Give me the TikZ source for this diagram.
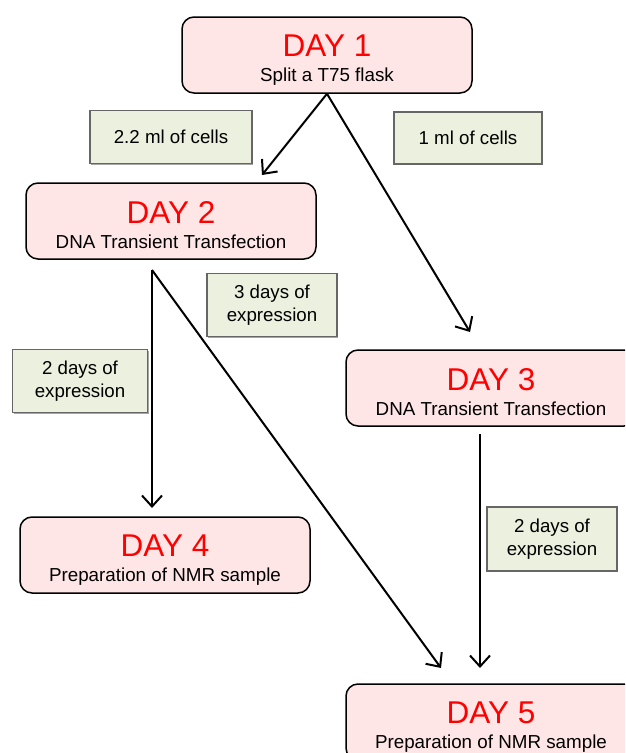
\documentclass[tikz,border=0pt]{standalone}
\usepackage{fontspec}
\setmainfont{Liberation Sans}
\usetikzlibrary{arrows.meta,shadows}
\definecolor{daypink}{RGB}{255,230,230}
\definecolor{notegreen}{RGB}{235,241,222}
\newcommand{\daytitle}[1]{{\color{red}\fontsize{31.5}{31.5}\selectfont\rule{0pt}{31pt}#1}}

\begin{document}
\begin{tikzpicture}[
        x=1pt, y=-1pt,
        day/.style={
            rectangle,
            rounded corners=12pt,
            fill=daypink,  % Hex: #ffe6e6
            draw=black,
            line width=1.5pt,
            minimum width=290pt,
            minimum height=76pt,
            align=center,
            font=\fontsize{18.8}{25}\selectfont
        },
        note/.style={
            rectangle,
            fill=notegreen,  % Hex: #ebf1de
            draw=black!60,
            line width=1.2pt,
            align=center,
            font=\fontsize{18.7}{23}\selectfont,
            general shadow={fill=black!35, shadow xshift=1.2pt, shadow yshift=-1.2pt}
        },
        flow/.style={
            -{Straight Barb[length=11pt,width=20pt]},
            line width=2pt
        }
    ]
        \useasboundingbox (0,0) rectangle (625,753);
        \clip (0,0) rectangle (625,753);

        % Days
        \node[day] (day1) at (327,55) {\daytitle{DAY 1}\\ Split a T75 flask};
        \node[day] (day2) at (171,221) {\daytitle{DAY 2}\\ DNA Transient Transfection};
        \node[day] (day3) at (491,388) {\daytitle{DAY 3}\\ DNA Transient Transfection};
        \node[day] (day4) at (165,555) {\daytitle{DAY 4}\\ Preparation of NMR sample};
        \node[day] (day5) at (491,722) {\daytitle{DAY 5}\\ Preparation of NMR sample};

        % Notes
        \node[note, minimum width=162pt, minimum height=53pt] (cells22) at (171,137) {2.2 ml of cells};
        \node[note, minimum width=148pt, minimum height=52pt] (cells1) at (468,138) {1 ml of cells};
        \node[note, minimum width=130pt, minimum height=63pt] (expr3) at (272,305) {3 days of\\expression};
        \node[note, minimum width=135pt, minimum height=63pt] (expr2a) at (80,381) {2 days of\\expression};
        \node[note, minimum width=130pt, minimum height=64pt] (expr2b) at (552,539) {2 days of\\expression};

        % Arrow ends
        \coordinate (tip2) at (262,175);
        \coordinate (tip3) at (470,332);
        \coordinate (fork2) at (152,270);
        \coordinate (tip4) at (152,508);
        \coordinate (tip5a) at (441,668);
        \coordinate (fork3) at (480,434);
        \coordinate (tip5b) at (480,668);

        % Flow
        \draw[flow] (day1.south) -- (tip2);
        \draw[flow] (day1.south) -- (tip3);
        \draw[flow] (fork2) -- (tip4);
        \draw[flow] (fork2) -- (tip5a);
        \draw[flow] (fork3) -- (tip5b);
    \end{tikzpicture}
\end{document}
